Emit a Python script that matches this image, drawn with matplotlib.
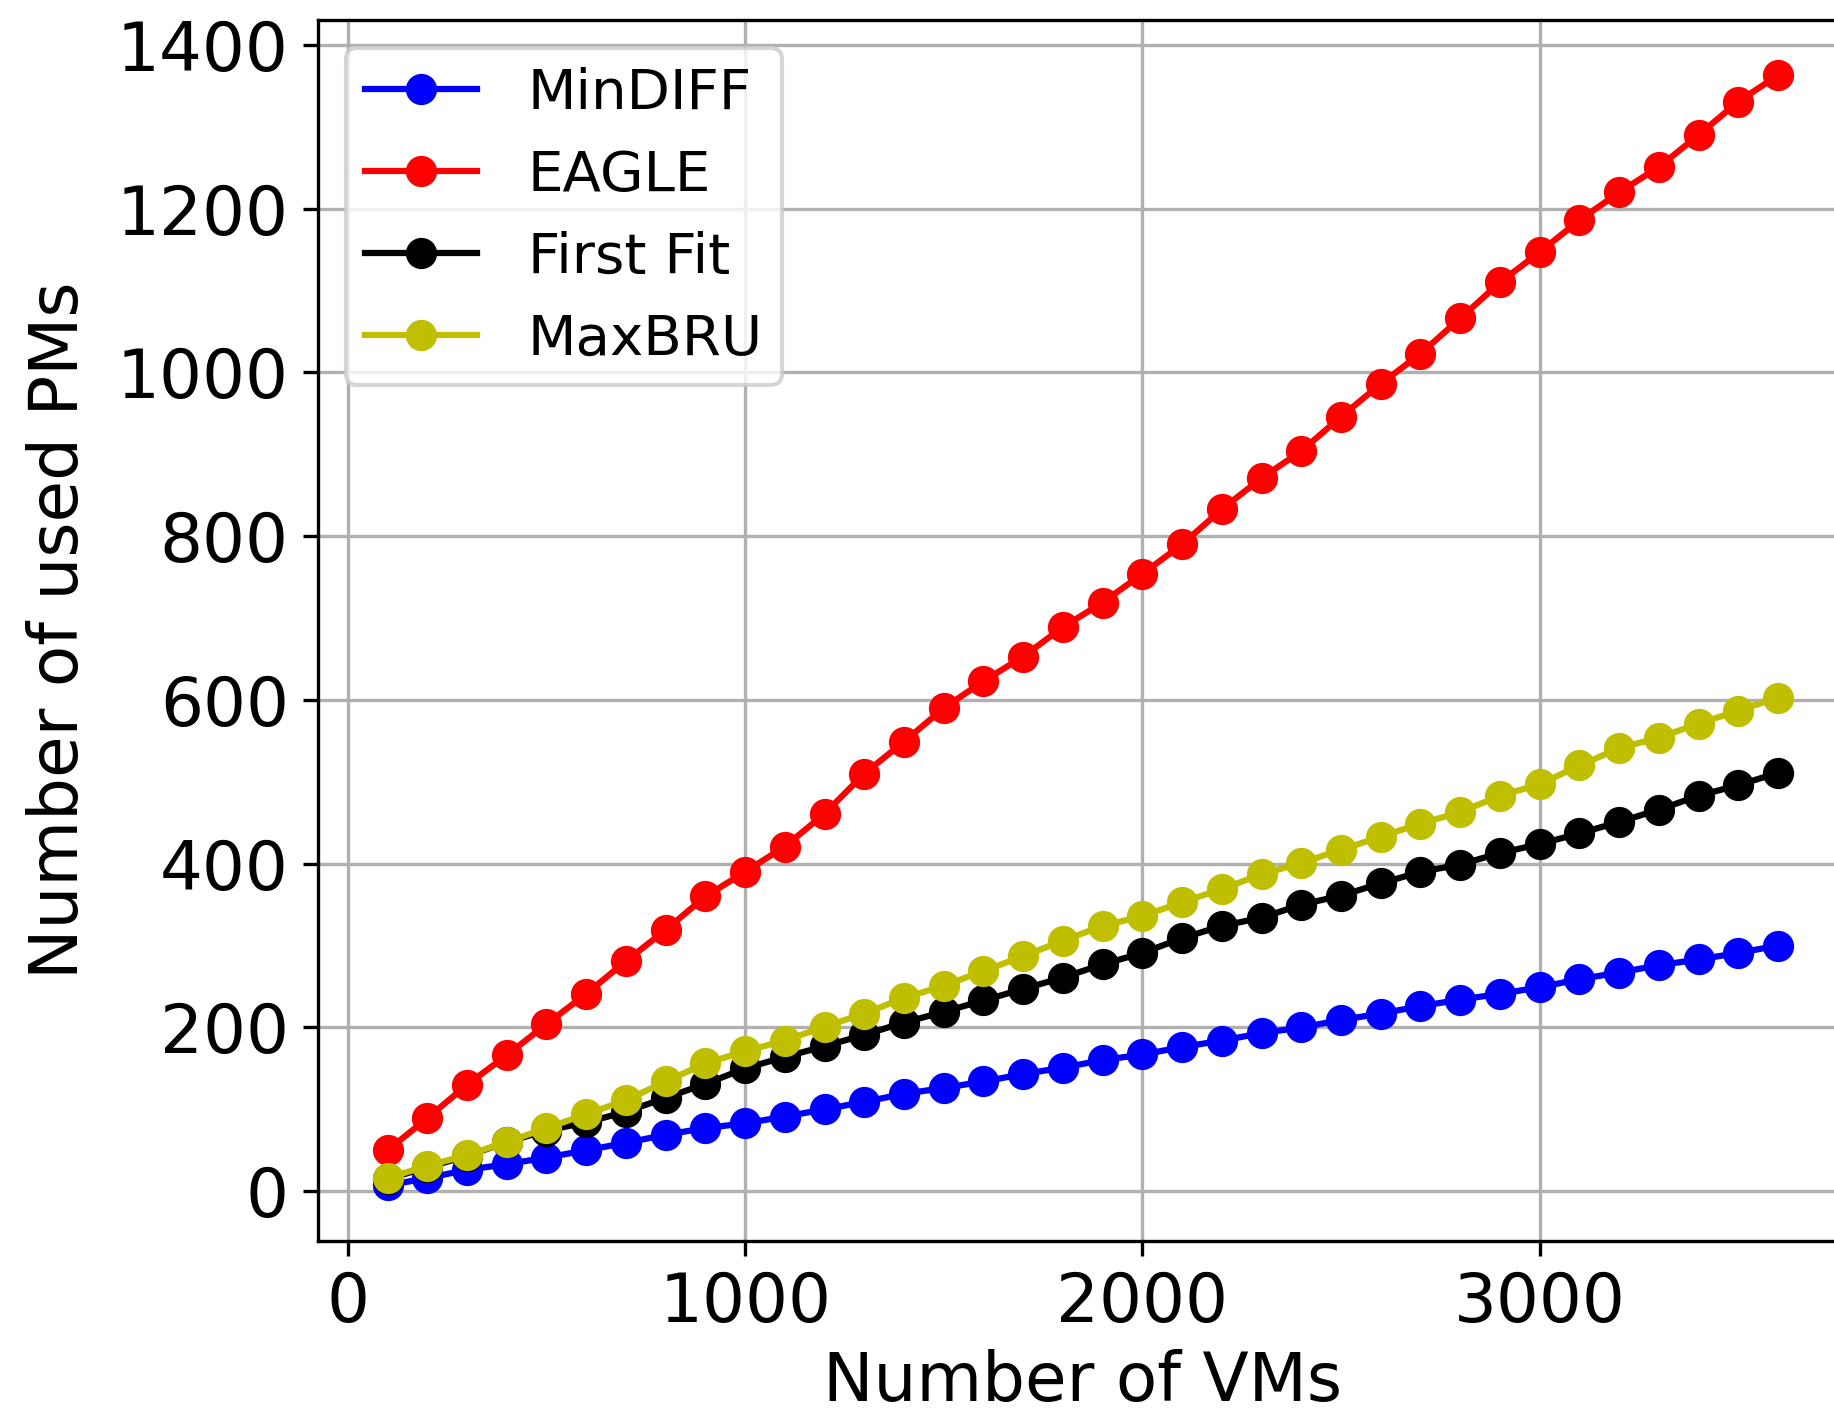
import numpy as np
from matplotlib import pyplot as plt

num_vms = list(range(100, 3700, 100))

mindiff = [7, 16, 26, 33, 41, 50, 59, 69, 77, 83, 91, 100, 109, 119, 126, 134, 143, 151,
           160, 167, 176, 184, 193, 200, 209, 217, 226, 234, 241, 249, 259, 267, 276, 283, 291, 300]
eagle = [50, 89, 130, 166, 204, 241, 281, 319, 360, 390, 421, 461, 510, 549, 590, 623, 653, 689,
         719, 754, 790, 833, 871, 904, 946, 986, 1023, 1066, 1110, 1147, 1186, 1220, 1251, 1290, 1331, 1363]
first_fit = [15, 29, 43, 60, 74, 84, 97, 114, 131, 150, 164, 177, 191, 206, 219, 233, 247, 261,
             277, 291, 309, 324, 334, 350, 361, 376, 390, 399, 413, 424, 437, 451, 466, 483, 496, 511]
maxbru = [16, 31, 44, 60, 77, 94, 111, 134, 156, 171, 184, 201, 217, 236, 251, 269, 287, 306,
          324, 336, 353, 369, 387, 401, 417, 433, 449, 463, 483, 497, 520, 541, 554, 571, 587, 603]

series = [("MinDIFF", mindiff, "b"), ("EAGLE", eagle, "r"),
          ("First Fit", first_fit, "k"), ("MaxBRU", maxbru, "y")]

fig = plt.figure(figsize=(1834 / 300, 1415 / 300), dpi=300)
ax = fig.add_axes([0.1734, 0.123, 0.834, 0.863])

for name, vals, col in series:
    ax.plot(num_vms, vals, color=col, marker="o", markersize=6.5, linewidth=1.5, label=name)

ax.grid(True)
ax.set_yticks(range(0, 1401, 200))
ax.set_xticks(range(0, 3001, 1000))
ax.tick_params(labelsize=16.2)
ax.set_xlabel("Number of VMs", fontsize=16.2, labelpad=3)
ax.set_ylabel("Number of used PMs", fontsize=16.2, labelpad=6)
ax.legend(loc="upper left", fontsize=13.5, borderaxespad=0.5, borderpad=0.33,
          handletextpad=0.9)

fig.savefig("out.png", dpi=300)
